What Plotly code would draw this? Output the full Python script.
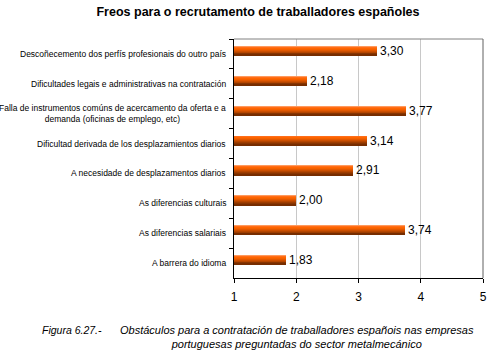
import plotly.graph_objects as go

categories = [
    "Descoñecemento dos perfís profesionais do outro país",
    "Dificultades legais e administrativas na contratación",
    "Falla de instrumentos comúns de acercamento da oferta e a<br>demanda (oficinas de emplego, etc)",
    "Dificultad derivada de los desplazamientos diarios",
    "A necesidade de desplazamentos diarios",
    "As diferencias culturais",
    "As diferencias salariais",
    "A barrera do idioma",
]
values = [3.30, 2.18, 3.77, 3.14, 2.91, 2.00, 3.74, 1.83]
value_labels = ["3,30", "2,18", "3,77", "3,14", "2,91", "2,00", "3,74", "1,83"]
x_ticks = [1, 2, 3, 4, 5]

FONT = "Liberation Sans, Arial, sans-serif"
W, H = 491, 353
L, R, T, B = 234, 4, 39, 75
PW, PH = W - L - R, H - T - B


def px(xp):
    return (xp - L) / PW


def py(yp):
    return (H - B - yp) / PH


# gradient layers, top to bottom
grad = ["#FF9A5C", "#FF6E1A", "#FF6600", "#F46000", "#E25800", "#CC4F00",
        "#B54600", "#9E3D00", "#8A3500", "#772D00"]
bar_total = 0.33
bar_top = -0.27
h = bar_total / len(grad)

fig = go.Figure()
for k, col in enumerate(grad):
    fig.add_trace(go.Bar(
        x=values, y=categories, orientation="h",
        width=bar_total - k * h, offset=bar_top + k * h,
        marker=dict(color=col, line=dict(width=0)),
        hoverinfo="skip", showlegend=False,
    ))

annotations = []
for c, v, lab in zip(categories, values, value_labels):
    annotations.append(dict(
        x=v, y=c, xref="x", yref="y", text=lab, showarrow=False,
        xanchor="left", yanchor="middle", xshift=1, yshift=3,
        font=dict(family=FONT, size=12, color="#000000"),
    ))
    annotations.append(dict(
        x=0, y=c, xref="paper", yref="y", text=c, showarrow=False,
        xanchor="right", yanchor="middle", xshift=-6, align="center",
        font=dict(family=FONT, size=8.5, color="#000000"),
    ))

annotations.append(dict(
    x=px(37), y=py(330), xref="paper", yref="paper",
    text="<i>Figura 6.27.-</i>", showarrow=False, xanchor="left", yanchor="middle",
    font=dict(family=FONT, size=10.5, color="#000000"),
))
annotations.append(dict(
    x=px(116), y=py(337), xref="paper", yref="paper",
    text="<i>Obstáculos para a contratación de traballadores españois nas empresas<br>"
         "portuguesas preguntadas do sector metalmecánico</i>",
    showarrow=False, xanchor="left", yanchor="middle", align="center",
    font=dict(family=FONT, size=11, color="#000000"),
))

fig.update_layout(
    width=W, height=H,
    margin=dict(l=L, r=R, t=T, b=B, pad=0),
    paper_bgcolor="#FFFFFF", plot_bgcolor="#FFFFFF",
    barmode="overlay", bargap=0,
    title=dict(
        text="<b>Freos para o recrutamento de traballadores españoles</b>",
        x=258 / W, xanchor="center", y=1 - 12 / H, yanchor="middle",
        xref="container", yref="container",
        font=dict(family=FONT, size=12.5, color="#000000"),
    ),
    xaxis=dict(
        range=[1, 5], tickvals=x_ticks, ticktext=[str(t) for t in x_ticks],
        showgrid=True, gridcolor="#C8C8C8", gridwidth=1,
        showline=True, linecolor="#000000", linewidth=1,
        ticks="outside", ticklen=4, tickcolor="#000000",
        ticklabelstandoff=4,
        tickfont=dict(family=FONT, size=12, color="#000000"),
        zeroline=False, fixedrange=True,
    ),
    yaxis=dict(
        type="category", autorange="reversed",
        showticklabels=False, tickson="boundaries",
        ticks="outside", ticklen=4, tickcolor="#000000",
        showline=True, linecolor="#000000", linewidth=1,
        showgrid=False, zeroline=False, fixedrange=True,
    ),
    annotations=annotations,
    shapes=[
        dict(type="line", xref="paper", yref="paper", x0=0, x1=1, y0=1, y1=1,
             line=dict(color="#808080", width=1)),
        dict(type="line", xref="paper", yref="paper", x0=1, x1=1, y0=0, y1=1,
             line=dict(color="#606060", width=1)),
    ],
    font=dict(family=FONT),
)

fig.write_html("out.html")
